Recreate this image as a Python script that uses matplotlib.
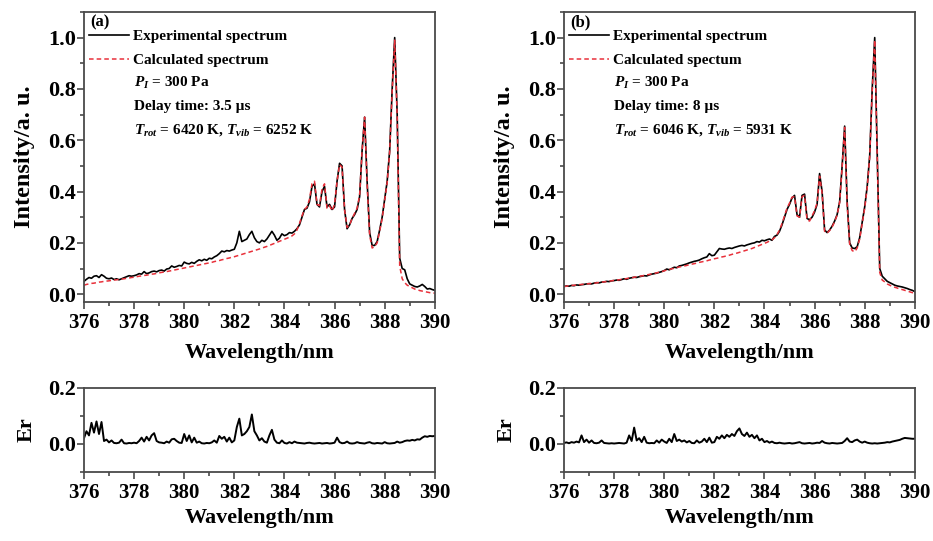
import numpy as np
import matplotlib
matplotlib.use('Agg')
import matplotlib.pyplot as plt
from matplotlib.ticker import MultipleLocator, FormatStrFormatter

# ---------------------------------------------------------------------------
# data, wavelength grid 376.0 ... 390.0 nm, step 0.1
# ---------------------------------------------------------------------------
wl = np.round(np.arange(3760, 3901) / 10.0, 1)

exp_a = [
    0.050, 0.058, 0.065, 0.062, 0.070, 0.072, 0.065, 0.076, 0.070, 0.062,
    0.060, 0.063, 0.057, 0.060, 0.056, 0.060, 0.064, 0.068, 0.072, 0.070,
    0.072, 0.075, 0.080, 0.078, 0.088, 0.080, 0.083, 0.088, 0.090, 0.087,
    0.092, 0.094, 0.090, 0.098, 0.100, 0.110, 0.105, 0.108, 0.112, 0.110,
    0.125, 0.120, 0.118, 0.124, 0.120, 0.128, 0.134, 0.130, 0.136, 0.132,
    0.140, 0.138, 0.145, 0.150, 0.158, 0.168, 0.165, 0.170, 0.168, 0.172,
    0.175, 0.200, 0.245, 0.205, 0.210, 0.215, 0.232, 0.245, 0.220, 0.205,
    0.200, 0.210, 0.205, 0.215, 0.230, 0.245, 0.230, 0.210, 0.218, 0.235,
    0.228, 0.232, 0.240, 0.238, 0.245, 0.255, 0.270, 0.300, 0.330, 0.335,
    0.360, 0.420, 0.430, 0.350, 0.340, 0.400, 0.420, 0.340, 0.350, 0.330,
    0.340, 0.440, 0.510, 0.500, 0.330, 0.255, 0.270, 0.295, 0.310, 0.330,
    0.380, 0.560, 0.690, 0.440, 0.240, 0.190, 0.190, 0.205, 0.250, 0.300,
    0.370, 0.440, 0.560, 0.800, 1.000, 0.700, 0.140, 0.100, 0.095, 0.060,
    0.040, 0.035, 0.030, 0.028, 0.032, 0.038, 0.030, 0.020, 0.022, 0.018,
    0.015]

calc_a = [
    0.035, 0.038, 0.040, 0.042, 0.043, 0.045, 0.047, 0.048, 0.050, 0.051,
    0.052, 0.054, 0.055, 0.056, 0.058, 0.059, 0.060, 0.062, 0.063, 0.065,
    0.066, 0.068, 0.070, 0.071, 0.073, 0.074, 0.076, 0.078, 0.079, 0.081,
    0.083, 0.085, 0.086, 0.088, 0.090, 0.092, 0.094, 0.096, 0.098, 0.100,
    0.102, 0.104, 0.106, 0.108, 0.110, 0.112, 0.114, 0.116, 0.118, 0.120,
    0.122, 0.124, 0.127, 0.129, 0.131, 0.134, 0.136, 0.139, 0.141, 0.144,
    0.146, 0.149, 0.152, 0.155, 0.158, 0.161, 0.164, 0.167, 0.170, 0.173,
    0.176, 0.179, 0.183, 0.186, 0.190, 0.194, 0.198, 0.202, 0.206, 0.210,
    0.214, 0.218, 0.222, 0.227, 0.235, 0.250, 0.275, 0.305, 0.330, 0.340,
    0.370, 0.430, 0.440, 0.350, 0.345, 0.410, 0.430, 0.335, 0.345, 0.325,
    0.350, 0.440, 0.505, 0.495, 0.330, 0.260, 0.270, 0.295, 0.315, 0.335,
    0.385, 0.560, 0.690, 0.430, 0.230, 0.180, 0.185, 0.200, 0.245, 0.295,
    0.365, 0.435, 0.555, 0.790, 0.990, 0.690, 0.110, 0.060, 0.045, 0.035,
    0.030, 0.025, 0.020, 0.018, 0.014, 0.012, 0.010, 0.008, 0.006, 0.005,
    0.004]

exp_b = [
    0.030, 0.032, 0.031, 0.034, 0.033, 0.036, 0.035, 0.037, 0.038, 0.040,
    0.041, 0.040, 0.043, 0.045, 0.044, 0.047, 0.048, 0.050, 0.049, 0.052,
    0.053, 0.055, 0.054, 0.057, 0.060, 0.058, 0.062, 0.064, 0.066, 0.065,
    0.068, 0.070, 0.072, 0.071, 0.075, 0.078, 0.080, 0.082, 0.085, 0.088,
    0.092, 0.098, 0.095, 0.100, 0.105, 0.103, 0.110, 0.112, 0.115, 0.118,
    0.122, 0.125, 0.128, 0.130, 0.133, 0.138, 0.142, 0.145, 0.158, 0.150,
    0.152, 0.165, 0.178, 0.176, 0.175, 0.178, 0.180, 0.178, 0.182, 0.185,
    0.188, 0.190, 0.188, 0.192, 0.195, 0.198, 0.200, 0.205, 0.203, 0.210,
    0.208, 0.212, 0.215, 0.210, 0.225, 0.230, 0.245, 0.270, 0.300, 0.330,
    0.350, 0.375, 0.385, 0.310, 0.300, 0.385, 0.390, 0.295, 0.290, 0.300,
    0.320, 0.350, 0.470, 0.400, 0.250, 0.240, 0.250, 0.265, 0.285, 0.310,
    0.360, 0.500, 0.655, 0.360, 0.200, 0.180, 0.178, 0.185, 0.220, 0.280,
    0.340, 0.420, 0.540, 0.800, 1.000, 0.550, 0.100, 0.070, 0.060, 0.050,
    0.045, 0.040, 0.035, 0.032, 0.030, 0.028, 0.025, 0.022, 0.018, 0.015,
    0.010]

calc_b = [
    0.030, 0.031, 0.033, 0.034, 0.035, 0.035, 0.037, 0.038, 0.039, 0.040,
    0.041, 0.042, 0.043, 0.044, 0.046, 0.047, 0.048, 0.049, 0.051, 0.052,
    0.054, 0.055, 0.056, 0.058, 0.059, 0.061, 0.063, 0.064, 0.066, 0.068,
    0.070, 0.071, 0.073, 0.075, 0.077, 0.079, 0.081, 0.083, 0.086, 0.088,
    0.091, 0.094, 0.096, 0.099, 0.101, 0.104, 0.106, 0.108, 0.110, 0.112,
    0.115, 0.117, 0.119, 0.121, 0.124, 0.126, 0.128, 0.130, 0.133, 0.135,
    0.138, 0.140, 0.142, 0.145, 0.147, 0.150, 0.152, 0.155, 0.158, 0.160,
    0.163, 0.166, 0.169, 0.172, 0.175, 0.178, 0.182, 0.186, 0.190, 0.194,
    0.198, 0.202, 0.207, 0.212, 0.220, 0.232, 0.250, 0.275, 0.305, 0.335,
    0.355, 0.378, 0.380, 0.305, 0.300, 0.380, 0.385, 0.290, 0.285, 0.305,
    0.325, 0.355, 0.460, 0.395, 0.245, 0.238, 0.248, 0.262, 0.282, 0.308,
    0.358, 0.495, 0.650, 0.350, 0.195, 0.170, 0.165, 0.180, 0.215, 0.275,
    0.335, 0.415, 0.535, 0.790, 0.990, 0.540, 0.085, 0.055, 0.048, 0.040,
    0.035, 0.030, 0.027, 0.024, 0.020, 0.018, 0.015, 0.012, 0.009, 0.006,
    0.005]

er_a = [
    0.020, 0.045, 0.030, 0.075, 0.040, 0.080, 0.035, 0.078, 0.010, 0.015,
    0.005, 0.012, 0.003, 0.002, 0.004, 0.015, 0.002, 0.001, 0.003, 0.002,
    0.004, 0.002, 0.010, 0.022, 0.008, 0.025, 0.012, 0.030, 0.038, 0.010,
    0.005, 0.004, 0.002, 0.008, 0.004, 0.016, 0.018, 0.010, 0.004, 0.003,
    0.035, 0.010, 0.030, 0.005, 0.022, 0.004, 0.008, 0.002, 0.001, 0.003,
    0.002, 0.005, 0.012, 0.004, 0.028, 0.018, 0.025, 0.008, 0.022, 0.005,
    0.012, 0.060, 0.090, 0.030, 0.035, 0.045, 0.060, 0.105, 0.045, 0.030,
    0.012, 0.020, 0.008, 0.004, 0.030, 0.050, 0.015, 0.004, 0.002, 0.012,
    0.003, 0.001, 0.006, 0.002, 0.008, 0.004, 0.003, 0.002, 0.001, 0.003,
    0.004, 0.002, 0.001, 0.002, 0.003, 0.001, 0.002, 0.003, 0.001, 0.002,
    0.004, 0.022, 0.006, 0.002, 0.003, 0.008, 0.002, 0.001, 0.002, 0.006,
    0.003, 0.002, 0.001, 0.004, 0.006, 0.002, 0.001, 0.003, 0.002, 0.001,
    0.006, 0.002, 0.001, 0.002, 0.003, 0.008, 0.004, 0.006, 0.010, 0.012,
    0.011, 0.014, 0.012, 0.016, 0.015, 0.022, 0.027, 0.025, 0.028, 0.027,
    0.028]

er_b = [
    0.003, 0.005, 0.002, 0.006, 0.004, 0.008, 0.005, 0.030, 0.006, 0.015,
    0.004, 0.012, 0.003, 0.002, 0.004, 0.012, 0.003, 0.002, 0.001, 0.002,
    0.001, 0.002, 0.003, 0.002, 0.001, 0.004, 0.030, 0.010, 0.058, 0.012,
    0.020, 0.006, 0.025, 0.004, 0.002, 0.003, 0.002, 0.012, 0.004, 0.015,
    0.008, 0.003, 0.018, 0.006, 0.035, 0.010, 0.015, 0.008, 0.012, 0.005,
    0.010, 0.003, 0.002, 0.012, 0.004, 0.008, 0.018, 0.006, 0.022, 0.004,
    0.006, 0.025, 0.018, 0.030, 0.020, 0.032, 0.025, 0.035, 0.028, 0.045,
    0.055, 0.035, 0.028, 0.040, 0.025, 0.032, 0.020, 0.030, 0.012, 0.018,
    0.006, 0.010, 0.004, 0.008, 0.003, 0.002, 0.004, 0.002, 0.001, 0.002,
    0.003, 0.001, 0.002, 0.004, 0.006, 0.002, 0.001, 0.002, 0.003, 0.001,
    0.002, 0.004, 0.003, 0.010, 0.004, 0.002, 0.001, 0.003, 0.002, 0.001,
    0.002, 0.003, 0.010, 0.020, 0.008, 0.006, 0.012, 0.015, 0.008, 0.004,
    0.008, 0.004, 0.002, 0.001, 0.002, 0.001, 0.002, 0.003, 0.004, 0.006,
    0.005, 0.008, 0.010, 0.012, 0.014, 0.018, 0.021, 0.020, 0.019, 0.018,
    0.018]

panel_tags = ["(a)", "(b)"]
calc_labels = ["Calculated spectrum", "Calculated spectum"]
delay_txt = ["Delay time: 3.5 \u00b5s", "Delay time: 8 \u00b5s"]
temp_txt = [r"$T_{rot}$ = 6420 K, $T_{vib}$ = 6252 K",
            r"$T_{rot}$ = 6046 K, $T_{vib}$ = 5931 K"]
press_txt = r"$P_{I}$ = 300 Pa"

# ---------------------------------------------------------------------------
plt.rcParams.update({
    'font.family': 'Liberation Serif', 'font.weight': 'bold',
    'axes.labelweight': 'bold',
    'mathtext.fontset': 'custom',
    'mathtext.rm': 'Liberation Serif:bold',
    'mathtext.it': 'Liberation Serif:italic:bold',
    'mathtext.bf': 'Liberation Serif:bold',
})
SPINE = '#4a4a4a'
RED = '#e8303a'

fig = plt.figure(figsize=(9.33, 5.41), dpi=100)
fig.patch.set_facecolor('white')

lefts = [0.090, 0.6045]
W = 0.376
spec = [(exp_a, calc_a), (exp_b, calc_b)]
ers = [er_a, er_b]


def style(ax, ymaj, ymin):
    for s in ax.spines.values():
        s.set_color(SPINE); s.set_linewidth(1.3)
    ax.xaxis.set_major_locator(MultipleLocator(2))
    ax.xaxis.set_minor_locator(MultipleLocator(1))
    ax.yaxis.set_major_locator(MultipleLocator(ymaj))
    ax.yaxis.set_minor_locator(MultipleLocator(ymin))
    ax.yaxis.set_major_formatter(FormatStrFormatter('%.1f'))
    ax.tick_params(which='both', direction='out', color=SPINE, width=1.2,
                   top=False, right=False)
    ax.tick_params(which='major', length=5)
    ax.tick_params(which='minor', length=3)
    ax.tick_params(axis='x', labelsize=15, pad=3)
    ax.tick_params(axis='y', labelsize=16, pad=1)
    ax.set_xlim(376, 390)


for k in range(2):
    ax = fig.add_axes([lefts[k], 0.442, W, 0.536])
    e, c = spec[k]
    ax.plot(wl, e, color='black', lw=1.2, label='Experimental spectrum')
    ax.plot(wl, c, color=RED, lw=1.1, ls=(0, (3, 2)), label=calc_labels[k])
    ax.set_ylim(-0.03, 1.1)
    style(ax, 0.2, 0.1)
    ax.set_xlabel('Wavelength/nm', fontsize=16, labelpad=7)
    ax.set_ylabel('Intensity/a. u.', fontsize=17.5, labelpad=9)
    ax.text(0.017, 0.99, panel_tags[k], transform=ax.transAxes,
            fontsize=12, fontweight='bold', va='top', ha='left')
    ax.legend(loc='upper left', bbox_to_anchor=(0.014, 0.94), frameon=False,
              fontsize=11, handlelength=2.6, handletextpad=0.3,
              borderpad=0, borderaxespad=0, labelspacing=0.68)
    for j, t in enumerate([press_txt, delay_txt[k], temp_txt[k]]):
        ax.text(0.143, 0.755 - j * 0.082, t, transform=ax.transAxes,
                fontsize=11, fontweight='bold', va='center', ha='left')

    axe = fig.add_axes([lefts[k], 0.128, W, 0.155])
    axe.plot(wl, ers[k], color='black', lw=1.4)
    axe.set_ylim(-0.1, 0.2)
    style(axe, 0.2, 0.1)
    axe.set_xlabel('Wavelength/nm', fontsize=16, labelpad=4)
    axe.set_ylabel('Er', fontsize=16, labelpad=8)

fig.savefig('out.png', dpi=100, facecolor='white')
